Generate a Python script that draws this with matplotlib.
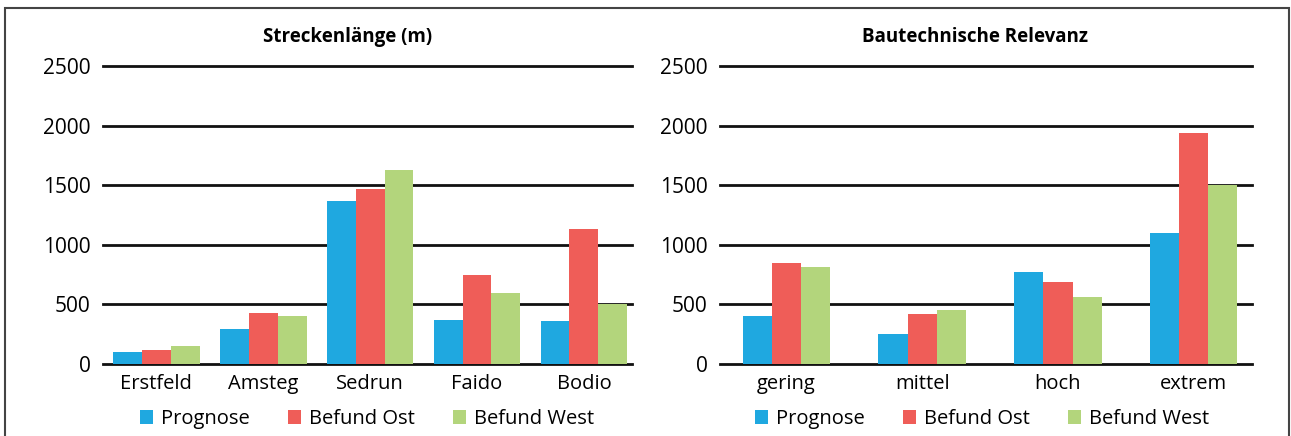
import matplotlib
matplotlib.use("Agg")
import matplotlib.pyplot as plt
from matplotlib.patches import Rectangle, Patch
import numpy as np

plt.rcParams['font.family'] = ['Open Sans', 'DejaVu Sans']

# Data
series_names = ["Prognose", "Befund Ost", "Befund West"]
colors = ["#1FA8E0", "#EF5D58", "#B3D57C"]

sections = ["Erstfeld", "Amsteg", "Sedrun", "Faido", "Bodio"]
len_prognose = [100, 290, 1370, 370, 360]
len_ost = [120, 430, 1465, 750, 1135]
len_west = [150, 405, 1630, 595, 500]

relevance = ["gering", "mittel", "hoch", "extrem"]
rel_prognose = [405, 255, 770, 1095]
rel_ost = [850, 420, 690, 1940]
rel_west = [810, 450, 565, 1500]

yticks = [0, 500, 1000, 1500, 2000, 2500]

W, H = 1291, 436
fig = plt.figure(figsize=(W / 100, H / 100), dpi=100)


def panel(rect, cats, values, title, title_x, legend_x, bar_w, xlim):
    ax = fig.add_axes(rect)
    x = np.arange(len(cats))
    for y in yticks:
        ax.axhline(y, color="#111111", lw=2.0, zorder=1, clip_on=False)
    for i, (vals, c) in enumerate(zip(values, colors)):
        ax.bar(x + (i - 1) * bar_w, vals, width=bar_w, color=c, zorder=2,
               linewidth=0)
    ax.set_xlim(*xlim)
    ax.set_ylim(0, 2500)
    ax.set_yticks(yticks)
    ax.set_yticklabels([str(t) for t in yticks], fontsize=15)
    ax.set_xticks(x)
    ax.set_xticklabels(cats, fontsize=14.5)
    ax.tick_params(length=0, pad=9, axis="y")
    ax.tick_params(length=0, pad=7, axis="x")
    for s in ax.spines.values():
        s.set_visible(False)
    fig.text(title_x / W, 1 - 37 / H, title, ha="center", va="center",
             fontsize=13.5, fontweight="bold")
    handles = [Patch(facecolor=c, edgecolor="none") for c in colors]
    fig.legend(handles, series_names, loc="center",
               bbox_to_anchor=(legend_x / W, 1 - 419 / H), ncol=3,
               frameon=False, fontsize=14.5, handlelength=0.65,
               handleheight=0.65, handletextpad=0.4, columnspacing=1.9)
    return ax


bottom = 1 - 364 / H
height = (364 - 66) / H

panel([103 / W, bottom, 529 / W, height], sections,
      [len_prognose, len_ost, len_west], "Streckenlänge (m)", 348, 367,
      0.27, (-0.5, 4.45))
panel([720 / W, bottom, 532 / W, height], relevance,
      [rel_prognose, rel_ost, rel_west], "Bautechnische Relevanz", 975, 982,
      0.215, (-0.49, 3.43))

# outer frame
fig.patches.append(Rectangle((5 / W, -0.05), (1289 - 5) / W, 1.05 - 8 / H,
                             transform=fig.transFigure, fill=False,
                             edgecolor="#444444", lw=1.5))

fig.savefig("out.png", dpi=100)
